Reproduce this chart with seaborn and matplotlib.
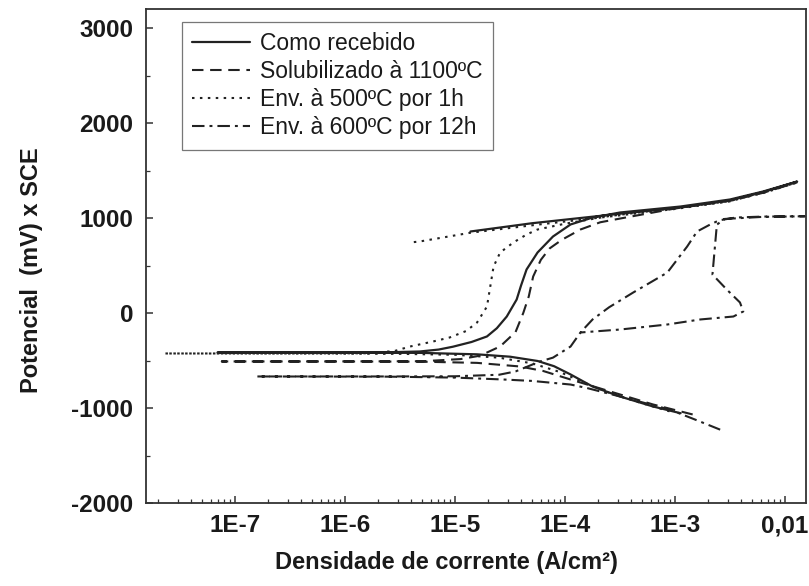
import numpy as np
import pandas as pd
import matplotlib
matplotlib.use("Agg")
import matplotlib.pyplot as plt
import seaborn as sns
from matplotlib.ticker import FixedLocator, LogLocator, MultipleLocator, NullFormatter

sns.set_theme(style="ticks")
plt.rcParams['font.family'] = ['Liberation Sans', 'DejaVu Sans']
plt.rcParams['axes.unicode_minus'] = False

# Polarization curves: log10 of current density (A/cm2) and potential (mV vs SCE),
# listed in scan order (cathodic end -> Ecorr -> anodic -> reverse)
como_logi = [-2.95, -3.20, -3.50, -3.75, -3.95, -4.10, -4.25, -4.50, -4.80, -5.30, -6.20, -7.16,
             -6.20, -5.60, -5.32, -5.15, -5.02, -4.85, -4.71, -4.62, -4.53, -4.44, -4.40, -4.35,
             -4.25, -4.11, -3.95, -3.75, -3.50, -2.95, -2.50, -2.20, -1.89,
             -2.20, -2.50, -2.95, -3.50, -3.86, -4.30, -4.86]
como_mv = [-1055, -984, -879, -774, -647, -560, -505, -460, -435, -420, -416, -416,
           -415, -413, -405, -385, -355, -305, -247, -160, -37, 142, 290, 458,
           637, 805, 932, 1005, 1058, 1121, 1195, 1279, 1384,
           1272, 1185, 1110, 1045, 1000, 945, 858]

solub_logi = [-2.84, -3.20, -3.65, -3.95, -4.20, -4.41, -4.80, -5.32, -6.20, -7.12,
              -6.20, -5.30, -4.95, -4.80, -4.71, -4.59, -4.45, -4.38, -4.33, -4.29, -4.22,
              -4.14, -4.03, -3.86, -3.68, -3.45, -3.00, -2.50, -2.20, -1.89]
solub_mv = [-1068, -963, -805, -700, -610, -563, -525, -512, -510, -510,
            -510, -508, -485, -455, -416, -352, -200, 0, 174, 384, 560,
            680, 770, 879, 955, 1005, 1100, 1182, 1265, 1375]

env500_logi = [-3.05, -3.30, -3.60, -3.85, -4.05, -4.30, -4.60, -5.00, -5.50, -6.50, -7.64,
               -6.50, -5.80, -5.55, -5.41, -5.20, -5.05, -4.90, -4.80, -4.71, -4.68, -4.65,
               -4.59, -4.47, -4.35, -4.25, -4.00, -3.60, -3.00, -2.50, -2.20, -1.90,
               -2.50, -3.00, -3.60, -4.25, -4.86, -5.32, -5.41]
env500_mv = [-1035, -950, -840, -720, -620, -530, -470, -440, -430, -427, -426,
             -426, -424, -400, -353, -300, -258, -190, -100, 68, 279, 489,
             637, 742, 826, 879, 940, 1020, 1105, 1180, 1262, 1370,
             1175, 1095, 1015, 930, 845, 753, 742]

env600_logi = [-2.59, -2.80, -3.05, -3.50, -3.80, -3.95, -4.30, -4.56, -5.00, -5.60, -6.80,
               -5.60, -5.00, -4.60, -4.45, -4.23, -4.11, -3.95, -3.86, -3.75, -3.60, -3.38,
               -3.07, -2.89, -2.80, -2.68, -2.60, -2.45, -2.20, -1.82,
               -2.20, -2.55, -2.62, -2.64, -2.66, -2.53, -2.41, -2.38, -2.47, -2.77,
               -3.07, -3.50, -3.86]
env600_mv = [-1228, -1130, -1016, -879, -790, -753, -715, -700, -680, -670, -668,
             -668, -666, -650, -615, -511, -470, -353, -205, -68, 60, 216,
             426, 700, 858, 932, 975, 1005, 1015, 1018,
             1012, 990, 930, 668, 405, 247, 111, 16, -37, -68,
             -121, -174, -205]

labels = ["Como recebido", "Solubilizado à 1100ºC", "Env. à 500ºC por 1h", "Env. à 600ºC por 12h"]
x_ticks = [1e-7, 1e-6, 1e-5, 1e-4, 1e-3, 1e-2]
x_ticklabels = ["1E-7", "1E-6", "1E-5", "1E-4", "1E-3", "0,01"]
y_ticks = [-2000, -1000, 0, 1000, 2000, 3000]

series = [(como_logi, como_mv), (solub_logi, solub_mv),
          (env500_logi, env500_mv), (env600_logi, env600_mv)]
frames = []
for name, (li, mv) in zip(labels, series):
    frames.append(pd.DataFrame({"serie": name,
                                "ordem": np.arange(len(li)),
                                "corrente": np.power(10.0, np.array(li)),
                                "potencial": mv}))
df = pd.concat(frames, ignore_index=True)

line_color = "#222222"
styles = {
    labels[0]: dict(linestyle="-", linewidth=1.6),
    labels[1]: dict(linestyle=(0, (5.5, 3.2)), linewidth=1.5),
    labels[2]: dict(linestyle=(0, (1.2, 2.6)), linewidth=1.5),
    labels[3]: dict(linestyle=(0, (6, 2.4, 1.4, 2.4)), linewidth=1.5),
}

fig = plt.figure(figsize=(8.09, 5.86), dpi=100)
ax = fig.add_axes([146 / 809, 83 / 586, 660 / 809, 494 / 586])

for name in labels:
    sub = df[df["serie"] == name]
    sns.lineplot(data=sub, x="corrente", y="potencial", sort=False, estimator=None,
                 ax=ax, color=line_color, label=name, **styles[name])

ax.set_xscale("log")
ax.set_xlim(1.55e-8, 0.0155)
ax.set_ylim(-2000, 3200)

ax.xaxis.set_major_locator(FixedLocator(x_ticks))
ax.set_xticklabels(x_ticklabels)
ax.xaxis.set_minor_locator(LogLocator(base=10, subs=np.arange(2, 10)))
ax.xaxis.set_minor_formatter(NullFormatter())
ax.set_yticks(y_ticks)
ax.set_yticklabels([str(v) for v in y_ticks])
ax.yaxis.set_minor_locator(MultipleLocator(500))

for lab in ax.get_xticklabels() + ax.get_yticklabels():
    lab.set_fontweight("bold")
    lab.set_fontsize(17.5)
    lab.set_color("#1a1a1a")

ax.tick_params(axis="both", which="major", direction="in", length=5, width=1.1,
               color="#333333", top=False, right=False)
ax.tick_params(axis="both", which="minor", direction="in", length=3, width=0.9,
               color="#333333", top=False, right=False)
ax.tick_params(axis="x", which="major", pad=8)
ax.tick_params(axis="y", which="major", pad=9)

for sp in ax.spines.values():
    sp.set_color("#333333")
    sp.set_linewidth(1.3)
    sp.set_visible(True)

ax.set_xlabel("")
ax.set_ylabel("")
fig.text(446 / 809, 1 - 563 / 586, "Densidade de corrente (A/cm²)", ha="center", va="center",
         fontsize=17, fontweight="bold", color="#1a1a1a")
fig.text(32 / 809, 1 - 270 / 586, "Potencial  (mV) x SCE", ha="center", va="center",
         rotation=90, fontsize=17, fontweight="bold", color="#1a1a1a")

leg = ax.legend(loc="upper left", bbox_to_anchor=(36 / 660, 481 / 494), borderaxespad=0,
                fontsize=16.5, handlelength=2.5, handletextpad=0.45, labelspacing=0.22,
                borderpad=0.45, frameon=True, fancybox=False, framealpha=1)
leg.get_frame().set_edgecolor("#777777")
leg.get_frame().set_linewidth(0.9)
for t in leg.get_texts():
    t.set_color("#1a1a1a")

fig.savefig("out.png", dpi=100)
